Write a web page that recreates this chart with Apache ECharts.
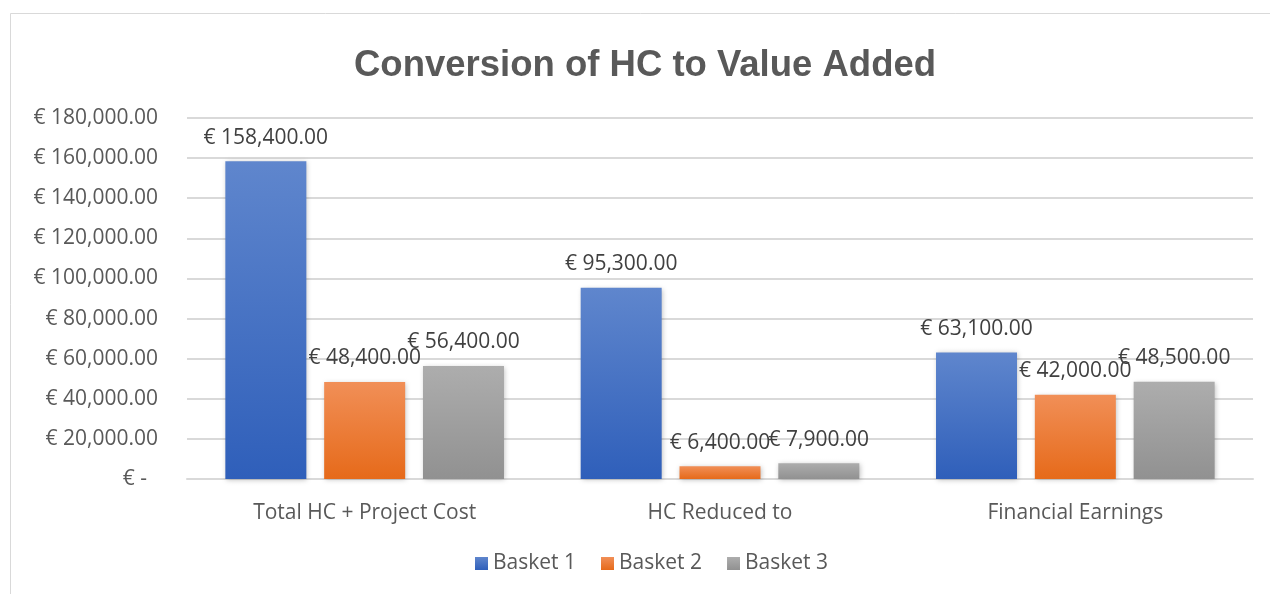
<!DOCTYPE html>
<html>
<head>
<meta charset="utf-8">
<script src="https://cdn.jsdelivr.net/npm/echarts@6/dist/echarts.min.js"></script>
<style>
html,body{margin:0;padding:0;background:#fff;}
#chart{width:1270px;height:594px;}
</style>
</head>
<body>
<div id="chart"></div>
<script>
var categories = ["Total HC + Project Cost", "HC Reduced to", "Financial Earnings"];
var seriesNames = ["Basket 1", "Basket 2", "Basket 3"];
var basket1 = [158400, 95300, 63100];
var basket2 = [48400, 6400, 42000];
var basket3 = [56400, 7900, 48500];
var FONT = "'Open Sans', 'Noto Sans', sans-serif";
var TITLE_FONT = "'Liberation Sans', sans-serif";

function euro(v){
	if(v==0){
		return "€ -  ";
	}
	return "€ " + Number(v).toLocaleString("en-US",{minimumFractionDigits:2,maximumFractionDigits:2});
}
// 渐变色
function grad(top,bottom){
	return new echarts.graphic.LinearGradient(0,0,0,1,[
		{offset:0,color:top},
		{offset:1,color:bottom}
	]);
}
function makeSeries(name,data,top,bottom){
	return {
		name:name,
		type:"bar",
		data:data,
		barWidth:81,
		barGap:"22%",
		itemStyle:{
			color:grad(top,bottom),
			shadowColor:"rgba(0,0,0,0.25)",
			shadowBlur:5,
			shadowOffsetX:1,
			shadowOffsetY:1
		},
		label:{
			show:true,
			position:"top",
			distance:13,
			color:"#404040",
			fontFamily:FONT,
			fontSize:21,
			formatter:function(p){return euro(p.value);}
		}
	};
}

var myChart = echarts.init(document.getElementById("chart"));
myChart.setOption({
	animation:false,
	backgroundColor:"#fff",
	graphic:[{
		type:"rect",
		shape:{x:10.5,y:13.5,width:1300,height:700},
		style:{fill:"none",stroke:"#d9d9d9",lineWidth:1},
		silent:true
	}],
	title:{
		text:"Conversion of HC to Value Added",
		left:349,
		top:42,
		textStyle:{color:"#595959",fontFamily:TITLE_FONT,fontSize:36.5,fontWeight:"bold"}
	},
	legend:{
		data:seriesNames,
		bottom:15,
		left:470,
		itemWidth:13,
		itemHeight:13,
		itemGap:25,
		icon:"rect",
		textStyle:{color:"#595959",fontFamily:FONT,fontSize:21}
	},
	grid:{left:187,right:17,top:118,bottom:115,containLabel:false},
	xAxis:[{
		type:"category",
		data:categories,
		axisLine:{lineStyle:{color:"#d9d9d9",width:2}},
		axisTick:{show:false},
		axisLabel:{color:"#595959",fontFamily:FONT,fontSize:21,margin:24}
	}],
	yAxis:[{
		type:"value",
		min:0,
		max:180000,
		interval:20000,
		axisLine:{show:false},
		axisTick:{show:false},
		splitLine:{lineStyle:{color:"#d9d9d9",width:2}},
		axisLabel:{color:"#595959",fontFamily:FONT,fontSize:21,margin:29,formatter:euro}
	}],
	series:[
		makeSeries(seriesNames[0],basket1,"#5f86cd","#2f5fba"),
		makeSeries(seriesNames[1],basket2,"#f18f57","#e66a1a"),
		makeSeries(seriesNames[2],basket3,"#adadad","#919191")
	]
});
</script>
</body>
</html>
